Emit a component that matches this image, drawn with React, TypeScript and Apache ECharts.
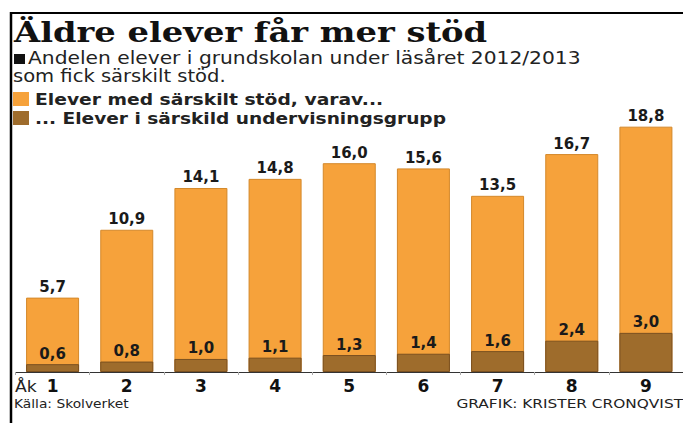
import React, { useEffect, useRef } from "react";
import * as echarts from "echarts";

const categories = ["1", "2", "3", "4", "5", "6", "7", "8", "9"];
const totalSupport = [5.7, 10.9, 14.1, 14.8, 16.0, 15.6, 13.5, 16.7, 18.8];
const specialGroup = [0.6, 0.8, 1.0, 1.1, 1.3, 1.4, 1.6, 2.4, 3.0];
const seriesNames = [
  "Elever med särskilt stöd, varav...",
  "... Elever i särskild undervisningsgrupp",
];
const titleText = "Äldre elever får mer stöd";
const subtitleLines = [
  "Andelen elever i grundskolan under läsåret 2012/2013",
  "som fick särskilt stöd.",
];
const sourceText = "Källa: Skolverket";
const creditText = "GRAFIK: KRISTER CRONQVIST";

const ORANGE = "#F6A23B";
const BROWN = "#9E6C2C";

const fmt = (v: number) => v.toFixed(1).replace(".", ",");

export default function App() {
  const ref = useRef<HTMLDivElement>(null);
  useEffect(() => {
    document.body.style.margin = "0";
    const chart = echarts.init(ref.current!, null, { renderer: "svg" });
    const labelStyle = {
      show: true,
      position: "top" as const,
      distance: 3,
      fontFamily: "DejaVu Sans",
      fontWeight: "bold" as const,
      fontSize: 15,
      color: "#1a1a1a",
      formatter: (p: any) => fmt(p.value),
    };
    chart.setOption({
      animation: false,
      grid: { left: 15.5, width: 675, top: 111, bottom: 51 },
      xAxis: {
        type: "category",
        data: categories,
        axisLine: { lineStyle: { color: "#333", width: 1 } },
        axisTick: { show: true, length: 3, lineStyle: { color: "#aaa" } },
        axisLabel: {
          margin: 6,
          fontFamily: "DejaVu Sans",
          fontWeight: "bold",
          fontSize: 17,
          lineHeight: 16,
          color: "#111",
        },
      },
      yAxis: { type: "value", min: 0, max: 20, show: false },
      series: [
        {
          name: seriesNames[0],
          type: "bar",
          data: totalSupport,
          barWidth: 53,
          itemStyle: { color: ORANGE, borderColor: "#D4882A", borderWidth: 1 },
          label: labelStyle,
        },
        {
          name: seriesNames[1],
          type: "bar",
          data: specialGroup,
          barWidth: 53,
          barGap: "-100%",
          itemStyle: { color: BROWN, borderColor: "#7a5020", borderWidth: 1 },
          label: labelStyle,
        },
      ],
      graphic: [
        { type: "line", shape: { x1: 10, y1: 13, x2: 683, y2: 13 }, style: { stroke: "#000", lineWidth: 2 } },
        { type: "line", shape: { x1: 11, y1: 12, x2: 11, y2: 423 }, style: { stroke: "#000", lineWidth: 2.5 } },
        {
          type: "text", x: 14, y: 19, scaleX: 1.25,
          style: { text: titleText, font: 'bold 27px "DejaVu Serif"', fill: "#111", verticalAlign: "top" },
        },
        { type: "rect", shape: { x: 14, y: 54, width: 11, height: 10 }, style: { fill: "#111" } },
        {
          type: "text", x: 28, y: 50, scaleX: 1.19,
          style: { text: subtitleLines[0], font: '17px "DejaVu Sans"', fill: "#222", verticalAlign: "top" },
        },
        {
          type: "text", x: 13, y: 67, scaleX: 1.15,
          style: { text: subtitleLines[1], font: '17px "DejaVu Sans"', fill: "#222", verticalAlign: "top" },
        },
        { type: "rect", shape: { x: 13, y: 92, width: 16, height: 14 }, style: { fill: ORANGE } },
        {
          type: "text", x: 35, y: 91, scaleX: 1.17,
          style: { text: seriesNames[0], font: 'bold 16px "DejaVu Sans"', fill: "#222", verticalAlign: "top" },
        },
        { type: "rect", shape: { x: 13, y: 111, width: 16, height: 14 }, style: { fill: BROWN } },
        {
          type: "text", x: 35, y: 110, scaleX: 1.16,
          style: { text: seriesNames[1], font: 'bold 16px "DejaVu Sans"', fill: "#222", verticalAlign: "top" },
        },
        {
          type: "text", x: 15, y: 379, scaleX: 1.15,
          style: { text: "Åk", font: '15px "DejaVu Sans"', fill: "#222", verticalAlign: "top" },
        },
        {
          type: "text", x: 14, y: 398, scaleX: 1.15,
          style: { text: sourceText, font: '12px "DejaVu Sans"', fill: "#222", verticalAlign: "top" },
        },
        {
          type: "text", x: 683, y: 398, scaleX: 1.28,
          style: { text: creditText, font: '12px "DejaVu Sans"', fill: "#222", align: "right", verticalAlign: "top" },
        },
      ],
    });
    return () => chart.dispose();
  }, []);
  return <div ref={ref} style={{ width: 683, height: 423 }} />;
}
